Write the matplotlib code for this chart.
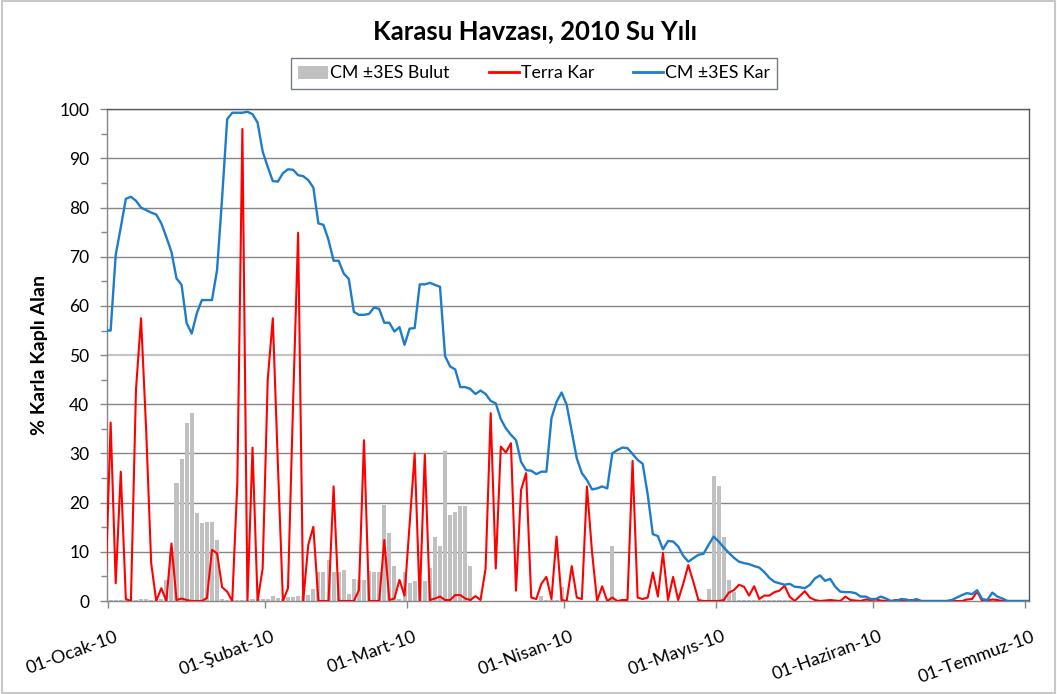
import matplotlib
matplotlib.use("Agg")
import matplotlib.pyplot as plt
import numpy as np
from matplotlib.patches import Patch, Rectangle
from matplotlib.lines import Line2D
from matplotlib.ticker import MultipleLocator

plt.rcParams['font.family'] = ['Lato', 'DejaVu Sans']

title = "Karasu Havzası, 2010 Su Yılı"
ylabel = "% Karla Kaplı Alan"
series_names = ["CM ±3ES Bulut", "Terra Kar", "CM ±3ES Kar"]
month_labels = ["01-Ocak-10", "01-Şubat-10", "01-Mart-10", "01-Nisan-10",
                "01-Mayıs-10", "01-Haziran-10", "01-Temmuz-10"]
month_start_days = [0, 31, 59, 90, 120, 151, 181]

# daily values, 1 Jan 2010 onwards
cm_kar = [55, 55, 70.4, 76, 81.8, 82.2, 81.4, 80, 79.5, 79,
          78.6, 76.8, 74, 71, 65.6, 64.3, 56.5, 54.4, 58.5, 61.2,
          61.2, 61.2, 67.3, 82, 98, 99.3, 99.3, 99.3, 99.5, 99,
          97.3, 91.4, 88.3, 85.4, 85.3, 87, 87.8, 87.7, 86.6, 86.4,
          85.6, 84.1, 76.8, 76.5, 73.4, 69.2, 69.2, 66.6, 65.5, 58.8,
          58.2, 58.2, 58.4, 59.7, 59.4, 56.6, 56.6, 54.8, 55.7, 52.1,
          55.4, 55.5, 64.4, 64.4, 64.7, 64.3, 63.9, 49.8, 47.7, 47.1,
          43.5, 43.5, 43.1, 42.1, 42.8, 42.1, 40.7, 40.2, 37, 35.1,
          33.8, 32.7, 28.3, 26.6, 26.5, 25.8, 26.3, 26.3, 37.2, 40.5,
          42.4, 39.9, 34.4, 29, 26, 24.6, 22.7, 22.9, 23.3, 22.9,
          30, 30.7, 31.2, 31.1, 29.9, 28.7, 27.9, 21.6, 13.6, 13.2,
          10.5, 12.2, 12.1, 11.1, 9.2, 8, 8.7, 9.4, 9.6, 11.4,
          13.1, 12.1, 10.9, 9.8, 8.8, 8, 7.7, 7.5, 7.1, 6.8,
          5.9, 4.7, 3.9, 3.6, 3.3, 3.5, 2.9, 2.8, 2.6, 3.3,
          4.6, 5.2, 4.1, 4.5, 2.9, 1.9, 1.8, 1.8, 1.6, 0.9,
          0.9, 0.4, 0.4, 0.9, 0.5, 0, 0, 0.4, 0.3, 0,
          0.4, 0, 0, 0, 0, 0, 0, 0.2, 0.7, 1.2,
          1.6, 1.4, 2.2, 0.4, 0.2, 1.7, 0.9, 0.5, 0, 0,
          0, 0, 0]

terra_kar = [3, 36.3, 3.6, 26.3, 0.4, 0, 43, 57.5, 35, 7.7,
             0, 2.6, 0, 11.7, 0.2, 0.5, 0.2, 0, 0, 0,
             0.6, 10.4, 9.7, 2.8, 1.9, 0, 24, 96, 0, 31.2,
             0, 6.6, 45, 57.5, 28, 0, 2.6, 40, 74.9, 0,
             11.4, 15.1, 0, 0, 0, 23.3, 0, 0, 0, 0,
             2.2, 32.7, 0, 0, 0, 12.4, 0.2, 0.5, 4.3, 1.1,
             15.5, 30, 0, 29.8, 0.2, 0.5, 0.9, 0.2, 0.2, 1.2,
             1.2, 0.5, 0.2, 1, 0.2, 6.6, 38.2, 6.6, 31.4, 30.2,
             32.1, 2.1, 22.6, 26, 0.7, 0.4, 3.5, 4.9, 0.4, 13.1,
             0.2, 0, 7.1, 0.7, 0.4, 23.3, 10, 0, 3, 0,
             0.7, 0, 0.2, 0.2, 28.5, 0.7, 0.4, 0.7, 5.8, 0.9,
             9.8, 0.2, 4.9, 0.2, 3.5, 7.3, 3.9, 0.2, 0, 0,
             0, 0, 0.2, 1.7, 2.2, 3.3, 2.9, 1.1, 3, 0.4,
             1.1, 1.1, 1.8, 2.1, 3.1, 0.9, 0, 1.0, 2.0, 0.7,
             0.2, 0, 0.1, 0.2, 0.1, 0, 0.9, 0.2, 0.1, 0,
             0.3, 0.2, 0.3, 0.1, 0, 0, 0.2, 0.2, 0, 0.2,
             0, 0, 0, 0, 0, 0, 0, 0, 0, 0,
             0.3, 0.4, 1.9, 0, 0.1, 0.3, 0.2, 0, 0, 0,
             0, 0, 0]

cm_bulut = [0.3, 0.3, 0.2, 0.2, 0.2, 0.2, 0.3, 0.5, 0.5, 0.3,
            0.3, 0.5, 4.3, 9.7, 24, 28.8, 36.3, 38.3, 17.8, 15.9,
            16.1, 16.1, 12.4, 0.5, 0.2, 0.2, 0.2, 0.2, 0.2, 0.4,
            0.4, 0.4, 0.4, 1.1, 0.7, 0.5, 0.9, 0.8, 1.1, 1.1,
            1.2, 2.4, 5.8, 5.8, 8.3, 5.8, 5.8, 6.3, 1.4, 4.4,
            4.3, 4.3, 6, 5.8, 5.8, 19.5, 13.8, 7.1, 0.5, 5.8,
            3.7, 4.1, 4.2, 4.0, 6.8, 13, 11.2, 30.5, 17.5, 18,
            19.3, 19.3, 7.1, 0.1, 0.1, 0.1, 0.1, 0.1, 0.1, 0.1,
            0.1, 0.1, 0.1, 0.1, 0.1, 0.1, 1.1, 0.2, 0.2, 0.3,
            2.8, 0.2, 0.1, 0.1, 0.1, 0.1, 0.1, 0.1, 0.1, 0.1,
            11.1, 0.1, 0.1, 0.1, 0.1, 0.1, 0.1, 0.1, 0.1, 0.1,
            0.1, 0.1, 0.1, 0.1, 0.1, 0.1, 0.1, 0.1, 0.1, 2.4,
            25.5, 23.4, 13.1, 4.3, 1.9, 0.2, 0.2, 0.2, 0.2, 0.2,
            0.2, 0.2, 0.2, 0.2, 0.2, 0.2, 0, 0, 0, 0,
            0, 0, 0, 0, 0, 0, 0, 0, 0, 0,
            0, 0, 0, 0, 0, 0, 0, 0, 0, 0,
            0, 0, 0, 0, 0, 0, 0, 0, 0, 0,
            0, 0, 0, 0, 0, 0, 0, 0, 0, 0,
            0, 0, 0]

days = np.arange(len(cm_kar))

W, H = 1057, 694
fig = plt.figure(figsize=(W / 100, H / 100), dpi=100)
ax = fig.add_axes([107.3 / W, 1 - 601 / H, (1029.3 - 107.3) / W, (601 - 109.3) / H])

grey = '#c0c0c0'
red = '#ff0000'
blue = '#1f7cc8'
gridc = '#868686'

ax.bar(days, cm_bulut, width=0.8, color=grey, zorder=2)
ax.plot(days, terra_kar, color=red, lw=1.5, zorder=3)
ax.plot(days, cm_kar, color=blue, lw=1.7, zorder=4)

x0 = 0.4
ax.set_xlim(x0 - 0.06, 182.3)
ax.set_ylim(0, 100)

ax.set_yticks(np.arange(0, 101, 10))
ax.yaxis.set_minor_locator(MultipleLocator(5))
for v in range(10, 101, 10):
    if v == 50:
        ax.axhline(v, color='#c4c4c4', lw=1.6, zorder=1)
    else:
        ax.axhline(v, color=gridc, lw=1.0, zorder=1)

ax.set_xticks([x0 + d for d in month_start_days])
ax.set_xticklabels([])
for d, lab in zip(month_start_days, month_labels):
    ax.text(x0 + d + 1.3, -5.6, lab, rotation=20, rotation_mode='anchor',
            ha='right', va='top', fontsize=13, color='black',
            transform=ax.transData, clip_on=False)

ax.tick_params(axis='y', which='major', direction='out', length=5, width=1,
               color=gridc, labelsize=12.5, pad=8)
ax.tick_params(axis='y', which='minor', direction='out', length=4, width=1, color=gridc)
ax.tick_params(axis='x', which='major', direction='out', length=5, width=1, color=gridc)

for s in ['left', 'bottom']:
    ax.spines[s].set_color(gridc)
    ax.spines[s].set_linewidth(1.0)
for s in ['top', 'right']:
    ax.spines[s].set_color('#555a60')
    ax.spines[s].set_linewidth(1.0)

ax.set_ylabel(ylabel, fontsize=14, fontweight='bold', labelpad=8)

fig.text(535 / W, 1 - 31 / H, title, ha='center', va='center',
         fontsize=18.5, fontweight='bold')

handles = [Patch(facecolor=grey, edgecolor='none'),
           Line2D([0], [0], color=red, lw=2),
           Line2D([0], [0], color=blue, lw=2)]
leg = fig.legend(handles, series_names, loc='center', ncol=3,
                 bbox_to_anchor=(534 / W, 1 - 73.5 / H), fontsize=12.8,
                 frameon=True, fancybox=False, handlelength=1.7,
                 handletextpad=0.1, columnspacing=2.2, borderpad=0.4)
leg.get_frame().set_edgecolor('#4f5a6a')
leg.get_frame().set_linewidth(1.0)

fig.add_artist(Rectangle((0.002, 0.002), 0.996, 0.996, transform=fig.transFigure,
                         fill=False, edgecolor='#c8c8c8', lw=1.5))

fig.savefig('out.png', dpi=100)
